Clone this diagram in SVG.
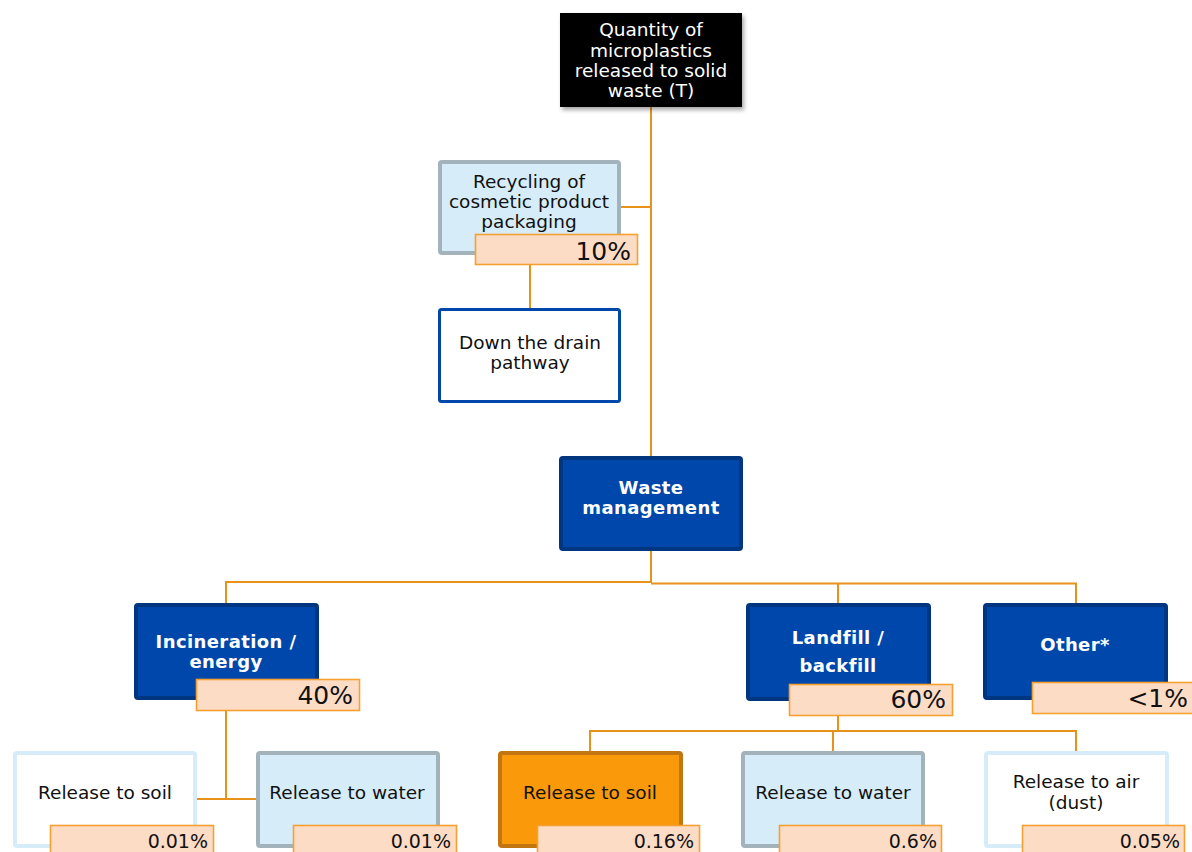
<svg xmlns="http://www.w3.org/2000/svg" width="1192" height="852" viewBox="0 0 1192 852">
<defs>
<filter id="sh" x="-10%" y="-10%" width="130%" height="130%">
<feDropShadow dx="2" dy="3" stdDeviation="2" flood-color="#000" flood-opacity="0.35"/>
</filter>
<style>
.t{font-family:"DejaVu Sans","Verdana",sans-serif;font-size:18.5px;fill:#111;text-anchor:middle}
.w{fill:#fff}
.b{font-weight:bold;font-size:18px;letter-spacing:0.4px}
.p{font-family:"DejaVu Sans","Verdana",sans-serif;font-size:25px;fill:#111;text-anchor:end}
.ps{font-family:"DejaVu Sans","Verdana",sans-serif;font-size:19px;fill:#111;text-anchor:end}
.lab{fill:#FDDCC6;stroke:#F5A031;stroke-width:1.6}
.blue{fill:#0047AB;stroke:#00367F;stroke-width:4}
.lb{fill:#D6EDF9;stroke:#A2B3BB;stroke-width:4}
.wh{fill:#fff;stroke:#D6EDF9;stroke-width:4}
.or{fill:#FA9A0A;stroke:#C27612;stroke-width:4}
.c{fill:none;stroke:#E8921C;stroke-width:2}
</style>
</defs>
<rect width="1192" height="852" fill="#fff"/>
<g id="connectors">
<path class="c" d="M651,107 V456"/>
<path class="c" d="M621,207 H651"/>
<path class="c" d="M530,265 V308"/>
<path class="c" d="M651,551 V583"/>
<path class="c" d="M226,603 V582 H651"/>
<path class="c" d="M651,583.5 H1076 V603"/>
<path class="c" d="M838,583.5 V603"/>
<path class="c" d="M226,711 V799"/>
<path class="c" d="M197,799 H256"/>
<path class="c" d="M838,716 V731"/>
<path class="c" d="M590,752 V731 H1076 V752"/>
<path class="c" d="M833,731 V752"/>
</g>
<g id="node-quantity">
<rect x="560" y="13" width="182" height="94" fill="#000" filter="url(#sh)"/>
<text class="t w" x="651" y="36">Quantity of</text>
<text class="t w" x="651" y="56.5">microplastics</text>
<text class="t w" x="651" y="77">released to solid</text>
<text class="t w" x="651" y="97">waste (T)</text>
</g>
<g id="node-recycling">
<rect class="lb" x="440" y="162" width="179" height="91" rx="2"/>
<text class="t" x="529" y="188">Recycling of</text>
<text class="t" x="529" y="208">cosmetic product</text>
<text class="t" x="529" y="228">packaging</text>
<rect class="lab" x="475.5" y="234.5" width="162" height="30"/>
<text class="p" x="631" y="260">10%</text>
</g>
<g id="node-drain">
<rect x="439.5" y="309.5" width="180" height="92" fill="#fff" stroke="#0047AB" stroke-width="3" rx="2"/>
<text class="t" x="530" y="349">Down the drain</text>
<text class="t" x="530" y="369">pathway</text>
</g>
<g id="node-waste">
<rect class="blue" x="561" y="458" width="180" height="91" rx="2"/>
<text class="t w b" x="651" y="494">Waste</text>
<text class="t w b" x="651" y="514">management</text>
</g>
<g id="node-incineration">
<rect class="blue" x="136" y="605" width="181" height="93" rx="2"/>
<text class="t w b" x="226" y="648">Incineration /</text>
<text class="t w b" x="226" y="668">energy</text>
<rect class="lab" x="196.5" y="679.5" width="163" height="31"/>
<text class="p" x="353" y="704">40%</text>
</g>
<g id="node-landfill">
<rect class="blue" x="748" y="605" width="181" height="94" rx="2"/>
<text class="t w b" x="838" y="644">Landfill /</text>
<text class="t w b" x="838" y="672">backfill</text>
<rect class="lab" x="789.5" y="684.5" width="163" height="31"/>
<text class="p" x="946" y="708">60%</text>
</g>
<g id="node-other">
<rect class="blue" x="985" y="605" width="181" height="93" rx="2"/>
<text class="t w b" x="1075" y="651">Other*</text>
<rect class="lab" x="1032.5" y="682.5" width="163" height="31"/>
<text class="p" x="1188" y="707">&lt;1%</text>
</g>
<g id="node-inc-soil">
<rect class="wh" x="15" y="753" width="180" height="93" rx="2"/>
<text class="t" x="105" y="799">Release to soil</text>
<rect class="lab" x="50.5" y="825.5" width="163" height="31"/>
<text class="ps" x="208" y="848">0.01%</text>
</g>
<g id="node-inc-water">
<rect class="lb" x="258" y="753" width="180" height="93" rx="2"/>
<text class="t" x="347" y="799">Release to water</text>
<rect class="lab" x="293.5" y="825.5" width="163" height="31"/>
<text class="ps" x="451" y="848">0.01%</text>
</g>
<g id="node-land-soil">
<rect class="or" x="500" y="753" width="181" height="93" rx="2"/>
<text class="t" x="590" y="799">Release to soil</text>
<rect class="lab" x="537.5" y="825.5" width="162" height="31"/>
<text class="ps" x="694" y="848">0.16%</text>
</g>
<g id="node-land-water">
<rect class="lb" x="743" y="753" width="180" height="93" rx="2"/>
<text class="t" x="833" y="799">Release to water</text>
<rect class="lab" x="779.5" y="825.5" width="162" height="31"/>
<text class="ps" x="937" y="848">0.6%</text>
</g>
<g id="node-land-air">
<rect class="wh" x="986" y="753" width="181" height="93" rx="2"/>
<text class="t" x="1076" y="788">Release to air</text>
<text class="t" x="1076" y="809">(dust)</text>
<rect class="lab" x="1022.5" y="825.5" width="162" height="31"/>
<text class="ps" x="1180" y="848">0.05%</text>
</g>
</svg>
